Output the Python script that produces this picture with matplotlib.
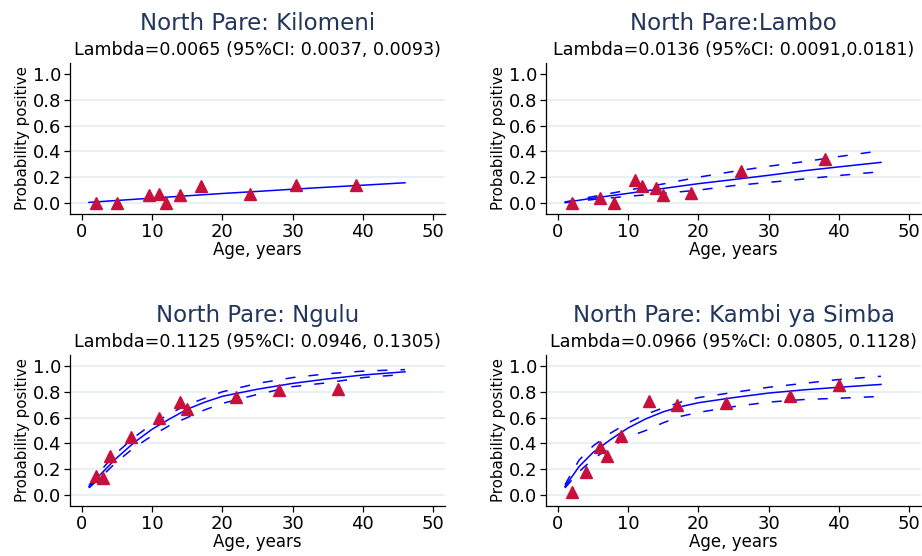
import matplotlib
matplotlib.use("Agg")
import matplotlib.pyplot as plt

# ---- data ----
titles = ["North Pare: Kilomeni", "North Pare:Lambo",
          "North Pare: Ngulu", "North Pare: Kambi ya Simba"]
subtitles = ["Lambda=0.0065 (95%CI: 0.0037, 0.0093)",
             "Lambda=0.0136 (95%CI: 0.0091,0.0181)",
             "Lambda=0.1125 (95%CI: 0.0946, 0.1305)",
             "Lambda=0.0966 (95%CI: 0.0805, 0.1128)"]

# observed proportions (triangles)
kilomeni_age = [2, 5, 9.5, 11, 12, 14, 17, 24, 30.5, 39]
kilomeni_pos = [0.0, 0.0, 0.06, 0.07, 0.0, 0.06, 0.13, 0.07, 0.14, 0.14]
lambo_age = [2, 6, 8, 11, 12, 14, 15, 19, 26, 38]
lambo_pos = [0.0, 0.04, 0.0, 0.18, 0.13, 0.12, 0.06, 0.08, 0.25, 0.34]
ngulu_age = [2, 3, 4, 7, 11, 14, 15, 22, 28, 36.5]
ngulu_pos = [0.15, 0.13, 0.30, 0.45, 0.60, 0.72, 0.67, 0.76, 0.81, 0.82]
kambi_age = [2, 4, 6, 7, 9, 13, 17, 24, 33, 40]
kambi_pos = [0.02, 0.18, 0.37, 0.30, 0.46, 0.73, 0.70, 0.71, 0.77, 0.85]

# fitted curves and 95% bands
fit_age_lin = [1, 5, 10, 15, 20, 25, 30, 35, 40, 46]
kilomeni_fit = [0.005, 0.02, 0.038, 0.056, 0.074, 0.09, 0.107, 0.123, 0.138, 0.157]
lambo_fit = [0.005, 0.038, 0.075, 0.113, 0.15, 0.182, 0.215, 0.25, 0.28, 0.315]
lambo_hi = [0.008, 0.05, 0.10, 0.148, 0.20, 0.245, 0.285, 0.32, 0.36, 0.405]
lambo_lo = [0.003, 0.027, 0.052, 0.075, 0.10, 0.135, 0.16, 0.186, 0.213, 0.243]

fit_age_curve = [1, 3, 5, 7.5, 10, 12.5, 15, 17.5, 20, 25, 30, 35, 40, 46]
ngulu_fit = [0.065, 0.18, 0.29, 0.41, 0.51, 0.59, 0.665, 0.72, 0.765, 0.82, 0.865, 0.90, 0.93, 0.955]
ngulu_hi = [0.075, 0.21, 0.33, 0.45, 0.55, 0.63, 0.70, 0.75, 0.80, 0.865, 0.91, 0.94, 0.96, 0.972]
ngulu_lo = [0.055, 0.155, 0.26, 0.37, 0.46, 0.54, 0.60, 0.66, 0.71, 0.78, 0.84, 0.87, 0.91, 0.935]
kambi_fit = [0.065, 0.22, 0.33, 0.43, 0.52, 0.59, 0.645, 0.685, 0.715, 0.755, 0.79, 0.815, 0.835, 0.857]
kambi_hi = [0.08, 0.27, 0.38, 0.48, 0.56, 0.625, 0.675, 0.72, 0.755, 0.795, 0.835, 0.865, 0.895, 0.92]
kambi_lo = [0.055, 0.18, 0.28, 0.37, 0.45, 0.50, 0.56, 0.61, 0.64, 0.685, 0.72, 0.74, 0.75, 0.764]

x_ticks = [0, 10, 20, 30, 40, 50]
y_ticks = [0.0, 0.2, 0.4, 0.6, 0.8, 1.0]
grid_top = [0.0, 0.2, 0.4, 0.6, 0.8]
grid_bottom = [0.0, 0.2, 0.4, 0.6, 0.8, 1.0]

TITLE_COLOR = "#22365c"
MARKER_COLOR = "#c8103c"
LINE_COLOR = "#0000ff"
GRID_COLOR = "#e9f0f3"

panels = [
    (kilomeni_age, kilomeni_pos, fit_age_lin, kilomeni_fit, None, None, grid_top),
    (lambo_age, lambo_pos, fit_age_lin, lambo_fit, lambo_hi, lambo_lo, grid_top),
    (ngulu_age, ngulu_pos, fit_age_curve, ngulu_fit, ngulu_hi, ngulu_lo, grid_bottom),
    (kambi_age, kambi_pos, fit_age_curve, kambi_fit, kambi_hi, kambi_lo, grid_bottom),
]

W, H = 922, 556
# axes boxes in pixels: left, top, width, height
boxes = [(70, 63, 375, 151), (546, 63, 375, 151),
         (70, 355, 375, 151), (546, 355, 375, 151)]

plt.rcParams["lines.scale_dashes"] = False
fig = plt.figure(figsize=(W / 100, H / 100), dpi=100)

for i, (age, pos, fage, fit, hi, lo, grid) in enumerate(panels):
    l, t, w, h = boxes[i]
    ax = fig.add_axes([l / W, 1 - (t + h) / H, w / W, h / H])

    for g in grid:
        ax.axhline(g, color=GRID_COLOR, lw=1.4, zorder=0)

    if hi is not None:
        ax.plot(fage, hi, color=LINE_COLOR, lw=1.1, dashes=(7.2, 9.4), zorder=2)
        ax.plot(fage, lo, color=LINE_COLOR, lw=1.1, dashes=(7.2, 9.4), zorder=2)
    ax.plot(fage, fit, color=LINE_COLOR, lw=1.1, zorder=2)
    ax.plot(age, pos, linestyle="none", marker="^", ms=8.5,
            color=MARKER_COLOR, zorder=3)

    ax.set_xlim(-1.7, 51.7)
    ax.set_ylim(-0.085, 1.085)
    ax.set_xticks(x_ticks)
    ax.set_yticks(y_ticks)
    ax.set_yticklabels([f"{v:.1f}" for v in y_ticks])
    ax.tick_params(labelsize=13, length=4, width=0.9, pad=2.5)
    for side in ["top", "right"]:
        ax.spines[side].set_visible(False)
    for side in ["left", "bottom"]:
        ax.spines[side].set_linewidth(0.9)

    ax.set_xlabel("Age, years", fontsize=12, labelpad=0)
    ax.set_ylabel("Probability positive", fontsize=10.8, labelpad=2)

    ax.text(0.5, 1 + 33 / h, titles[i], transform=ax.transAxes,
            ha="center", va="baseline", fontsize=16.5, color=TITLE_COLOR)
    ax.text(0.5, 1 + 8 / h, subtitles[i], transform=ax.transAxes,
            ha="center", va="baseline", fontsize=12.6, color="black")

fig.savefig("out.png", dpi=100, facecolor="white")
